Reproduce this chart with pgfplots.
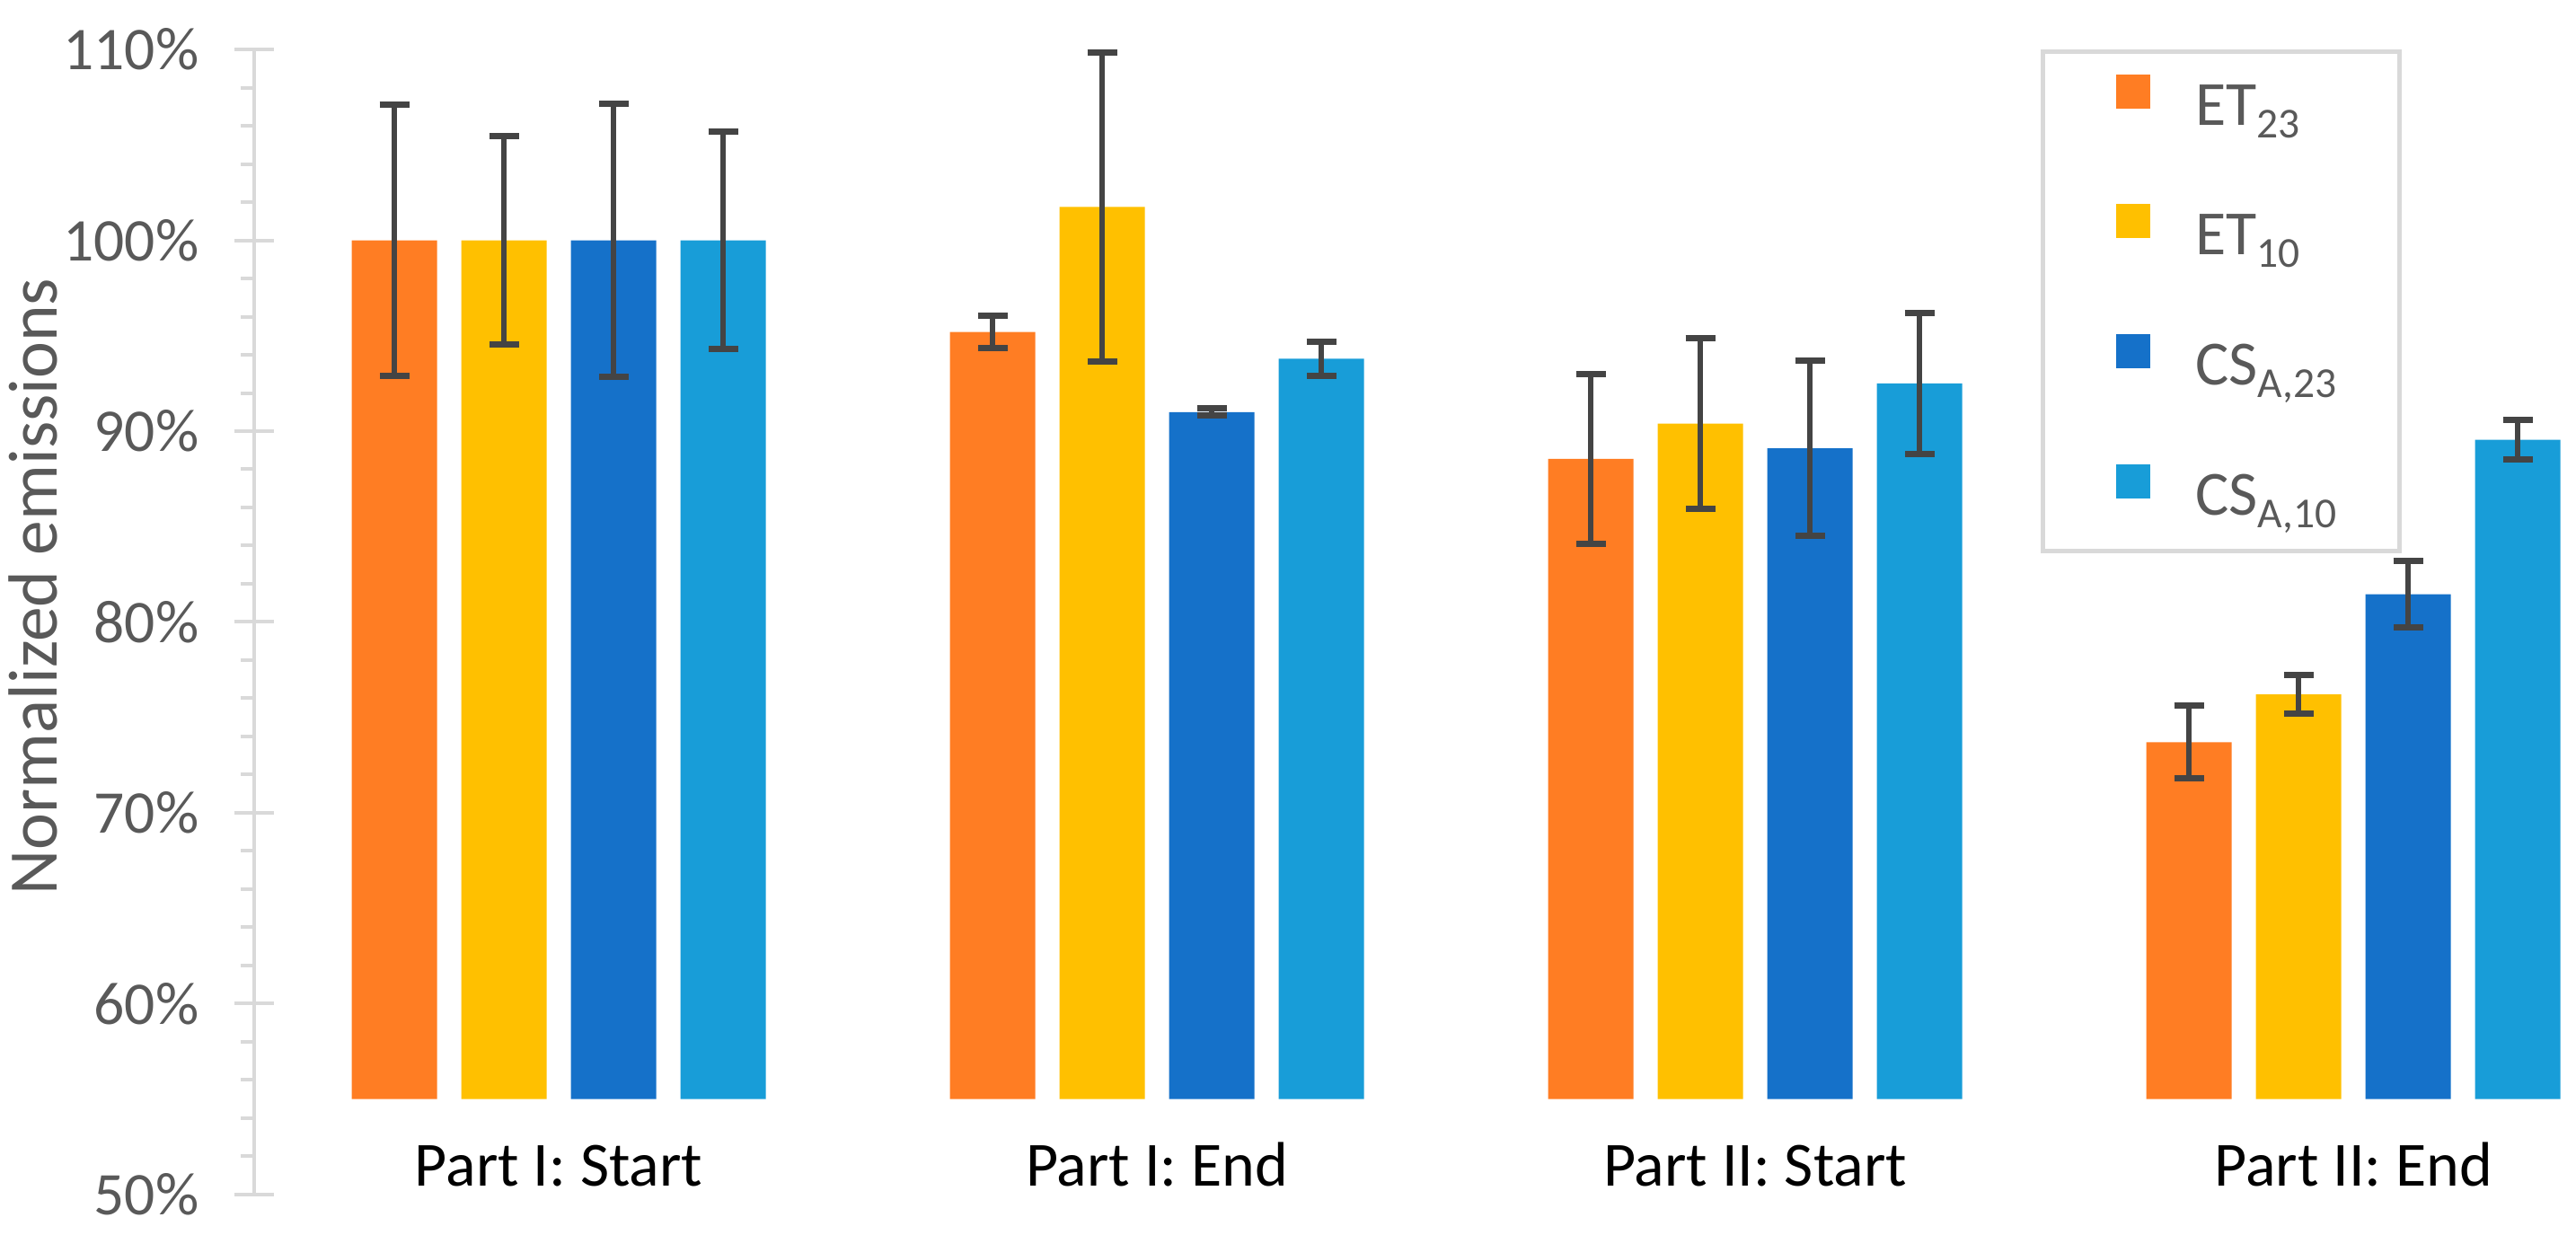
\documentclass[border=0pt]{standalone}
\usepackage{fontspec}
\setmainfont{Carlito}
\usepackage{pgfplots}
\pgfplotsset{compat=1.18}

\definecolor{cET23}{HTML}{FF7D23}
\definecolor{cET10}{HTML}{FFC000}
\definecolor{cCS23}{HTML}{1571C9}
\definecolor{cCS10}{HTML}{189DD8}
\definecolor{errgray}{HTML}{444444}
\definecolor{txtgray}{HTML}{595959}
\definecolor{axgray}{HTML}{D9D9D9}

\newcommand\sub[1]{\raisebox{-2.8pt}{\fontsize{9.5}{10}\selectfont #1}}

\pgfplotsset{
  sqlegend/.style={legend image code/.code={%
    \path (0pt,0pt) (20pt,0pt);
    \fill[##1,draw=none] (8.4pt,0.7pt) rectangle (16pt,8.3pt);}},
  eb/.style={error bars/.cd, y dir=both, y explicit,
    error bar style={line width=1.2pt, errgray},
    error mark options={rotate=90, mark size=3.3pt, line width=1.4pt, errgray}},
}

\begin{document}
\begin{tikzpicture}
\begin{axis}[
  name=ax,
  scale only axis,
  width=517pt, height=255pt,
  xmin=-0.509, xmax=3.372,
  ymin=50, ymax=110,
  y coord trafo/.code={\pgfmathparse{#1-55}},
  y coord inv trafo/.code={\pgfmathparse{#1+55}},
  ybar=5.4pt, bar width=19pt,
  clip=false,
  axis lines*=left,
  x axis line style={draw=none},
  y axis line style={axgray, line width=0.8pt},
  xtick=data,
  xticklabels={Part I: Start, Part I: End, Part II: Start, Part II: End},
  major x tick style={draw=none},
  xticklabel style={anchor=base, yshift=10.7pt, font=\fontsize{14}{16}\selectfont, text=black},
  ytick={50,60,70,80,90,100,110},
  yticklabels={50\%,60\%,70\%,80\%,90\%,100\%,110\%},
  minor y tick num=4,
  ytick align=outside,
  major tick length=8.8pt,
  minor tick length=3pt,
  major y tick style={axgray, line width=0.8pt, xshift=4.4pt},
  minor y tick style={axgray, line width=0.8pt},
  yticklabel style={font=\fontsize{13.5}{16}\selectfont, text=txtgray},
  ylabel={Normalized emissions},
  ylabel shift=-5.5pt,
  ylabel style={font=\fontsize{15.5}{18}\selectfont, text=txtgray, at={(ticklabel cs:0.531)}},
  legend cell align=left,
  legend style={at={(0.7694,1)}, anchor=north west, draw=axgray, line width=1pt,
    inner xsep=8pt, inner ysep=5pt, row sep=14.65pt,
    font=\fontsize{14}{16}\selectfont, text=txtgray,
    nodes={inner xsep=6pt, inner ysep=0pt, text height=9pt, text depth=3pt}},
]
\addplot[fill=cET23, draw=none, sqlegend, eb] coordinates {
  (0,100) +- (0,7.1)
  (1,95.2) +- (0,0.85)
  (2,88.55) +- (0,4.45)
  (3,73.7) +- (0,1.9)
};
\addlegendentry{ET\sub{23}}
\addplot[fill=cET10, draw=none, sqlegend, eb] coordinates {
  (0,100) +- (0,5.45)
  (1,101.75) +- (0,8.1)
  (2,90.4) +- (0,4.47)
  (3,76.2) +- (0,1.0)
};
\addlegendentry{ET\sub{10}}
\addplot[fill=cCS23, draw=none, sqlegend, eb] coordinates {
  (0,100) +- (0,7.15)
  (1,91.0) +- (0,0.2)
  (2,89.1) +- (0,4.6)
  (3,81.45) +- (0,1.75)
};
\addlegendentry{CS\sub{A,23}}
\addplot[fill=cCS10, draw=none, sqlegend, eb] coordinates {
  (0,100) +- (0,5.7)
  (1,93.8) +- (0,0.9)
  (2,92.5) +- (0,3.7)
  (3,89.55) +- (0,1.05)
};
\addlegendentry{CS\sub{A,10}}
\end{axis}
\pgfresetboundingbox
\path[use as bounding box] ([xshift=-56.6pt,yshift=-9pt]ax.south west) rectangle ([yshift=11pt]ax.north east);
\end{tikzpicture}
\end{document}
